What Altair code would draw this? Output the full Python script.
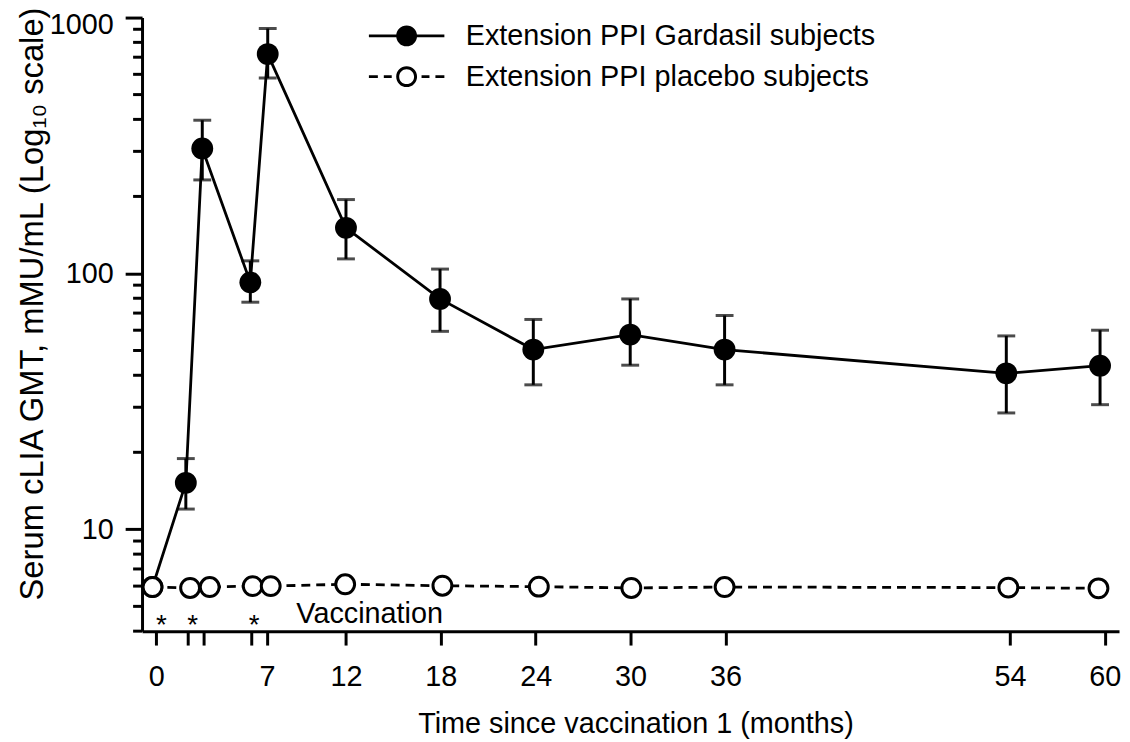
import altair as alt
import pandas as pd

FONT = "Liberation Sans, Arial, DejaVu Sans"

series_names = ["Extension PPI Gardasil subjects", "Extension PPI placebo subjects"]

# Gardasil group: month, GMT and 95% CI
g_month = [-0.24, 1.87, 2.91, 5.95, 7.05, 12.0, 17.95, 23.85, 29.98, 35.95, 53.77, 59.7]
g_gmt = [5.95, 15.2, 308.0, 92.3, 720.0, 150.8, 79.5, 50.4, 57.7, 50.4, 40.7, 43.6]
g_lo = [None, 12.0, 232.0, 77.2, 580.0, 114.0, 59.4, 36.7, 43.8, 36.7, 28.5, 30.7]
g_hi = [None, 18.9, 397.0, 112.0, 906.0, 194.4, 104.0, 66.1, 79.5, 68.5, 57.0, 60.0]

# Placebo group
p_month = [-0.24, 2.14, 3.38, 6.1, 7.24, 11.95, 18.1, 24.2, 30.05, 35.95, 53.9, 59.6]
p_gmt = [5.95, 5.9, 5.95, 6.0, 6.0, 6.1, 6.02, 5.97, 5.9, 5.95, 5.92, 5.88]

x_ticks = [0, 2, 3, 6, 7, 12, 18, 24, 30, 36, 54, 60]
x_unlabeled = [2, 3, 6]
x_domain = [-0.9, 60.9]
y_domain = [4, 1000]
y_major = [10, 100, 1000]
y_minor = [4, 5, 6, 7, 8, 9, 20, 30, 40, 50, 60, 70, 80, 90,
           200, 300, 400, 500, 600, 700, 800, 900]

star_month = [0.33, 2.3, 6.2]
star_gmt = [3.9, 3.9, 3.9]
star_text = ["*", "*", "*"]
vacc_month = [8.86]
vacc_gmt = [4.29]
vacc_text = ["Vaccination"]

PLOT_W, PLOT_H = 984, 618
MINOR_LEN_PX = 9

# legend symbols (line + marker), unit = sqrt(symbolSize)/2
PATH_G = ("M-3.62,-0.133L-0.95,-0.133L-0.95,0.133L-3.62,0.133Z "
          "M0.95,-0.133L3.62,-0.133L3.62,0.133L0.95,0.133Z "
          "M1,0A1,1 0 1,1 -1,0A1,1 0 1,1 1,0Z")
PATH_P = ("M-3.62,-0.133L-2.76,-0.133L-2.76,0.133L-3.62,0.133Z "
          "M-2.19,-0.133L-1.43,-0.133L-1.43,0.133L-2.19,0.133Z "
          "M1.43,-0.133L2.19,-0.133L2.19,0.133L1.43,0.133Z "
          "M2.76,-0.133L3.62,-0.133L3.62,0.133L2.76,0.133Z "
          "M1,0A1,1 0 1,1 -1,0A1,1 0 1,1 1,0Z "
          "M0.714,0A0.714,0.714 0 1,0 -0.714,0A0.714,0.714 0 1,0 0.714,0Z")

gard = pd.DataFrame({"month": g_month, "gmt": g_gmt, "lo": g_lo, "hi": g_hi})
plac = pd.DataFrame({"month": p_month, "gmt": p_gmt})
leg = pd.DataFrame({"series": series_names, "month": [g_month[0], p_month[0]],
                    "gmt": [g_gmt[0], p_gmt[0]]})
stars = pd.DataFrame({"month": star_month, "gmt": star_gmt, "label": star_text})
vacc = pd.DataFrame({"month": vacc_month, "gmt": vacc_gmt, "label": vacc_text})
minor = pd.DataFrame({"gmt": y_minor})

x_label_expr = ("indexof([" + ",".join(str(v) for v in x_unlabeled)
                + "], datum.value) >= 0 ? '' : datum.label")

x_axis = alt.Axis(
    values=x_ticks, labelExpr=x_label_expr, grid=False, tickCount=40,
    domainColor="black", domainWidth=3, tickColor="black", tickWidth=3, tickSize=14,
    labelFont=FONT, labelFontSize=29, labelColor="black", labelPadding=18,
    labelOverlap=False, labelFlush=False, labelBound=False,
    title="Time since vaccination 1 (months)", titleFont=FONT, titleFontSize=29,
    titleFontWeight="normal", titleColor="black", titleX=497, titleY=102,
    titleBaseline="alphabetic", titleAlign="center",
)
x_scale = alt.Scale(domain=x_domain, nice=False, zero=False)
y_scale = alt.Scale(type="log", domain=y_domain, nice=False)
y_axis = alt.Axis(
    values=y_major, format="d", grid=False, tickCount=20,
    domainColor="black", domainWidth=3, tickColor="black", tickWidth=3, tickSize=17,
    labelFont=FONT, labelFontSize=29, labelColor="black", labelPadding=12,
    labelOverlap=False, labelFlush=True, labelFlushOffset=7,
    title="Serum cLIA GMT, mMU/mL (Log\u2081\u2080 scale)", titleFont=FONT, titleFontSize=33,
    titleFontWeight="normal", titleColor="black", titleX=-110, titleY=288,
    titleBaseline="middle", titleAlign="center",
)

X = alt.X("month:Q", scale=x_scale, axis=x_axis)
Y = alt.Y("gmt:Q", scale=y_scale, axis=y_axis)

# minor log ticks on the y axis: short rules just left of the y axis line
months_per_px = (x_domain[1] - x_domain[0]) / PLOT_W
minor_ticks = alt.Chart(minor).transform_calculate(
    x0=str(x_domain[0]),
    x1=str(x_domain[0] - MINOR_LEN_PX * months_per_px),
).mark_rule(color="black", strokeWidth=3).encode(
    x=alt.X("x1:Q", scale=x_scale, axis=x_axis),
    x2="x0:Q",
    y=Y,
)

plac_line = alt.Chart(plac).mark_line(color="black", strokeWidth=2.8, strokeDash=[9, 6]).encode(x=X, y=Y)
gard_line = alt.Chart(gard).mark_line(color="black", strokeWidth=2.8).encode(x=X, y=Y)
errs = alt.Chart(gard).transform_filter("isValid(datum.lo)").mark_errorbar(
    ticks=True, size=18, thickness=3, color="black"
).encode(x=X, y=alt.Y("lo:Q", scale=y_scale, axis=y_axis), y2="hi:Q")
gard_pts = alt.Chart(gard).mark_point(
    shape="circle", filled=True, color="black", size=484, opacity=1
).encode(x=X, y=Y)
plac_pts = alt.Chart(plac).mark_point(
    shape="circle", filled=True, fill="white", stroke="black", strokeWidth=3, size=361, opacity=1
).encode(x=X, y=Y)
legend_layer = alt.Chart(leg).mark_point(filled=True, color="black", opacity=0).encode(
    x=X, y=Y,
    shape=alt.Shape(
        "series:N",
        scale=alt.Scale(domain=series_names, range=[PATH_G, PATH_P]),
        legend=alt.Legend(
            title=None, orient="none", legendX=252, legendY=4, direction="vertical",
            symbolSize=441, symbolOpacity=1, symbolStrokeWidth=0, symbolFillColor="black",
            labelFont=FONT, labelFontSize=29, labelColor="black", labelOffset=45,
            rowPadding=11, padding=0, labelLimit=700,
        ),
    ),
)
vacc_txt = alt.Chart(vacc).mark_text(
    font=FONT, fontSize=29, align="left", baseline="alphabetic", color="black"
).encode(x=X, y=Y, text="label:N")
stars_txt = alt.Chart(stars).mark_text(
    font=FONT, fontSize=28, align="center", baseline="alphabetic", color="black"
).encode(x=X, y=Y, text="label:N")

chart = alt.layer(
    plac_line, gard_line, errs, gard_pts, plac_pts, legend_layer, vacc_txt, stars_txt, minor_ticks
).properties(
    width=PLOT_W, height=PLOT_H,
    autosize=alt.AutoSizeParams(type="none"),
    padding={"left": 135, "top": 7, "right": 3, "bottom": 108},
    background="white",
).configure_view(strokeWidth=0)

chart.save("out.html", embed_options={"renderer": "svg", "actions": False})
